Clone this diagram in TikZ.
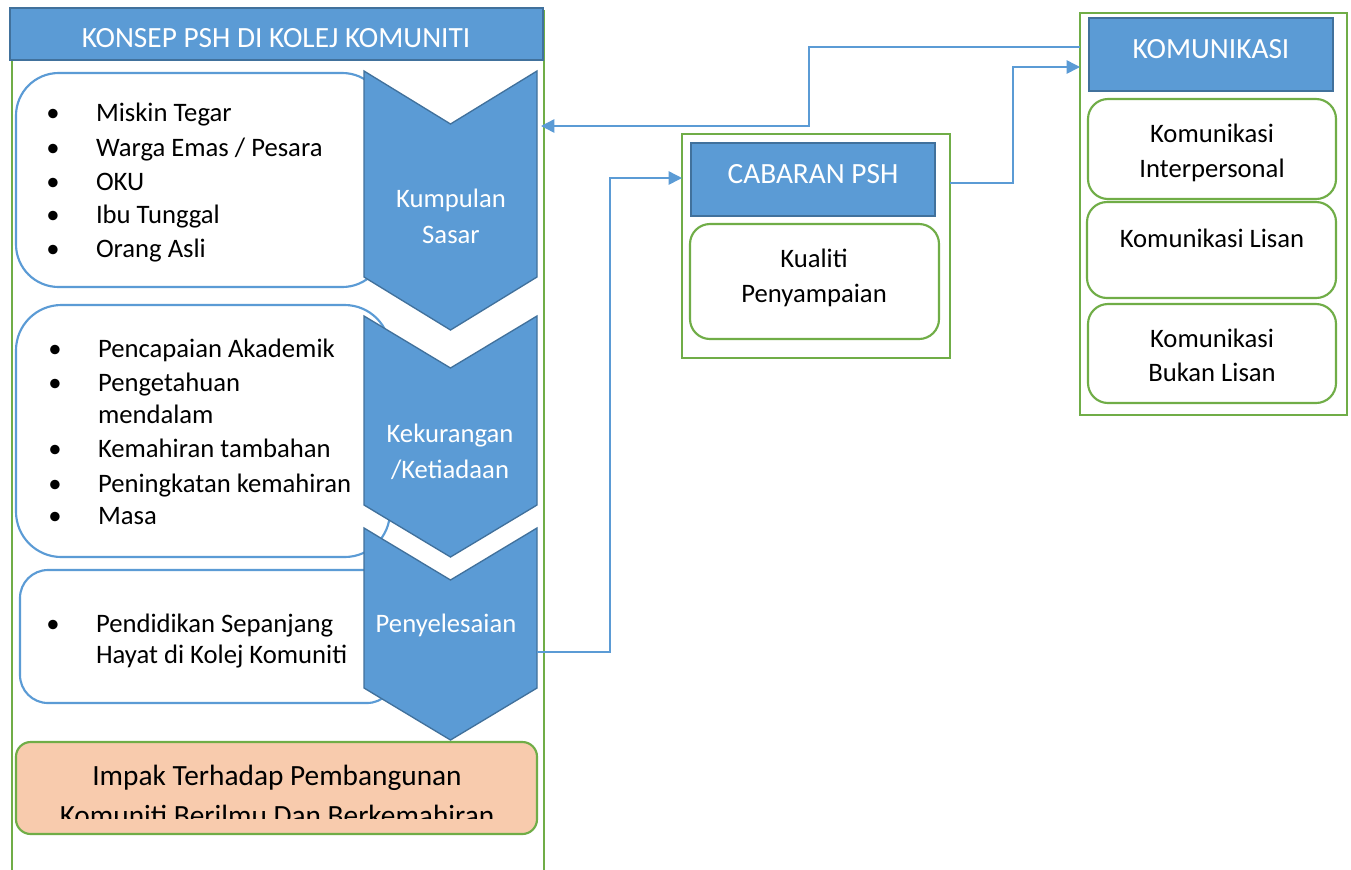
\documentclass[tikz,border=0pt]{standalone}
\usepackage{fontspec}
\setmainfont{Carlito}
\usetikzlibrary{arrows.meta}
\definecolor{bfill}{RGB}{91,155,213}
\definecolor{bdark}{RGB}{65,113,156}
\definecolor{gline}{RGB}{112,173,71}
\definecolor{peach}{RGB}{248,203,173}
\newcommand\rbox[6]{\node[#6, minimum width={(#4-#2)*0.75pt}, minimum height={(#5-#3)*0.75pt}] (#1) at ({(#2+#4)/2},{(#3+#5)/2}) {};}
\begin{document}
\begin{tikzpicture}[x=0.75pt,y=-0.75pt,
  every node/.style={inner sep=0pt, outer sep=0pt},
  titlebox/.style={draw=bdark, fill=bfill, line width=1.6pt},
  container/.style={draw=gline, line width=1.5pt},
  bluebox/.style={draw=bfill, fill=white, line width=1.6pt},
  greenbox/.style={draw=gline, fill=white, line width=1.6pt, rounded corners=15pt},
  impakbox/.style={draw=gline, fill=peach, line width=1.6pt, rounded corners=11pt},
  chev/.style={draw=bdark, fill=bfill, line width=1pt, line join=miter},
  conn/.style={draw=bfill, line width=1.1pt, -{Triangle[length=10pt,width=10pt]}},
  wtxt/.style={text=white, font=\fontsize{22pt}{26pt}\selectfont, anchor=base},
  ctxt/.style={text=white, font=\fontsize{20pt}{24pt}\selectfont, anchor=base},
  ltxt/.style={text=black, font=\fontsize{20pt}{24pt}\selectfont, anchor=base west},
  mtxt/.style={text=black, font=\fontsize{20pt}{24pt}\selectfont, anchor=base},
  bul/.style={text=black, font=\fontsize{20pt}{24pt}\selectfont, anchor=base}
]
\clip (0,0) rectangle (1351,869);
\fill[white] (0,0) rectangle (1351,869);

% ---- left container ----
\draw[container] (12,10) -- (12,880);
\draw[container] (544,10) -- (544,880);
\rbox{title}{10}{8}{543}{60}{titlebox}
\node[wtxt] (titletext) at (276,47) {KONSEP PSH DI KOLEJ KOMUNITI};

% text boxes
\draw[bluebox, rounded corners=32pt] (16,73) rectangle (385,287);
\draw[bluebox, rounded corners=34pt] (16,305) rectangle (390,557);
\draw[bluebox, rounded corners=21pt] (20,570) rectangle (395,703);

% list 1
\node[bul] (b11) at (53,121) {•}; \node[ltxt] (t11) at (96,121) {Miskin Tegar};
\node[bul] (b12) at (53,156) {•}; \node[ltxt] (t12) at (96,156) {Warga Emas / Pesara};
\node[bul] (b13) at (53,190) {•}; \node[ltxt] (t13) at (96,190) {OKU};
\node[bul] (b14) at (53,223) {•}; \node[ltxt] (t14) at (96,223) {Ibu Tunggal};
\node[bul] (b15) at (53,257) {•}; \node[ltxt] (t15) at (96,257) {Orang Asli};
% list 2
\node[bul] (b21) at (55,357) {•}; \node[ltxt] (t21) at (98,357) {Pencapaian Akademik};
\node[bul] (b22) at (55,391) {•}; \node[ltxt] (t22) at (98,391) {Pengetahuan};
\node[ltxt] (t22b) at (98,423) {mendalam};
\node[bul] (b23) at (55,457) {•}; \node[ltxt] (t23) at (98,457) {Kemahiran tambahan};
\node[bul] (b24) at (55,492) {•}; \node[ltxt] (t24) at (98,492) {Peningkatan kemahiran};
\node[bul] (b25) at (55,524) {•}; \node[ltxt] (t25) at (98,524) {Masa};
% list 3
\node[bul] (b31) at (53,632) {•}; \node[ltxt] (t31) at (96,632) {Pendidikan Sepanjang};
\node[ltxt] (t31b) at (96,663) {Hayat di Kolej Komuniti};

% chevrons
\draw[chev] (364,71) -- (450.5,124) -- (537,71) -- (537,277) -- (450.5,330) -- (364,277) -- cycle;
\draw[chev] (364,316) -- (450.5,368) -- (537,316) -- (537,505) -- (450.5,557) -- (364,505) -- cycle;
\draw[chev] (364,528) -- (450.5,580) -- (537,528) -- (537,688) -- (450.5,740) -- (364,688) -- cycle;
\node[ctxt] (c1a) at (451,207) {Kumpulan};
\node[ctxt] (c1b) at (451,243) {Sasar};
\node[ctxt] (c2a) at (450,442) {Kekurangan};
\node[ctxt] (c2b) at (450,478) {/Ketiadaan};
\node[ctxt] (c3a) at (446,632) {Penyelesaian};
\coordinate (chev1r) at (541,126);
\coordinate (chev3r) at (537,652);

% impak
\draw[impakbox] (16,742) rectangle (537,834);
\node[mtxt, font=\fontsize{22pt}{26pt}\selectfont] (imp1) at (277,785) {Impak Terhadap Pembangunan};
\begin{scope}
\clip (16,742) rectangle (537,818);
\node[mtxt, font=\fontsize{22pt}{26pt}\selectfont] (imp2) at (277,825) {Komuniti Berilmu Dan Berkemahiran};
\end{scope}

% ---- CABARAN PSH ----
\rbox{cabcont}{682}{134}{950}{358}{container}
\rbox{cabtitle}{691}{143}{935}{216}{titlebox}
\node[wtxt] (cabtext) at (813,183) {CABARAN PSH};
\draw[greenbox] (690,224) rectangle (939,339);
\node[mtxt] (kual1) at (814,267) {Kualiti};
\node[mtxt] (kual2) at (814,302) {Penyampaian};
\coordinate (cabL) at (682,178);
\coordinate (cabR) at (950,183);

% ---- KOMUNIKASI ----
\rbox{komcont}{1080}{13}{1347}{415}{container}
\rbox{komtitle}{1089}{18}{1333}{91}{titlebox}
\node[wtxt] (komtext) at (1211,58) {KOMUNIKASI};
\draw[greenbox] (1088,99) rectangle (1336,199);
\node[mtxt] (k1a) at (1212,142) {Komunikasi};
\node[mtxt] (k1b) at (1212,177) {Interpersonal};
\draw[greenbox] (1087,202) rectangle (1336,298);
\node[mtxt] (k2a) at (1212,247) {Komunikasi Lisan};
\draw[greenbox] (1088,304) rectangle (1336,403);
\node[mtxt] (k3a) at (1212,347) {Komunikasi};
\node[mtxt] (k3b) at (1212,381) {Bukan Lisan};
\coordinate (komL1) at (1080,47);
\coordinate (komL2) at (1080,67);

% ---- connectors ----
\draw[conn] (komL1) -| (809,126) -- (chev1r);
\draw[conn] (cabR) -| (1013,67) -- (komL2);
\draw[conn] (chev3r) -| (610,178) -- (cabL);
\end{tikzpicture}
\end{document}
